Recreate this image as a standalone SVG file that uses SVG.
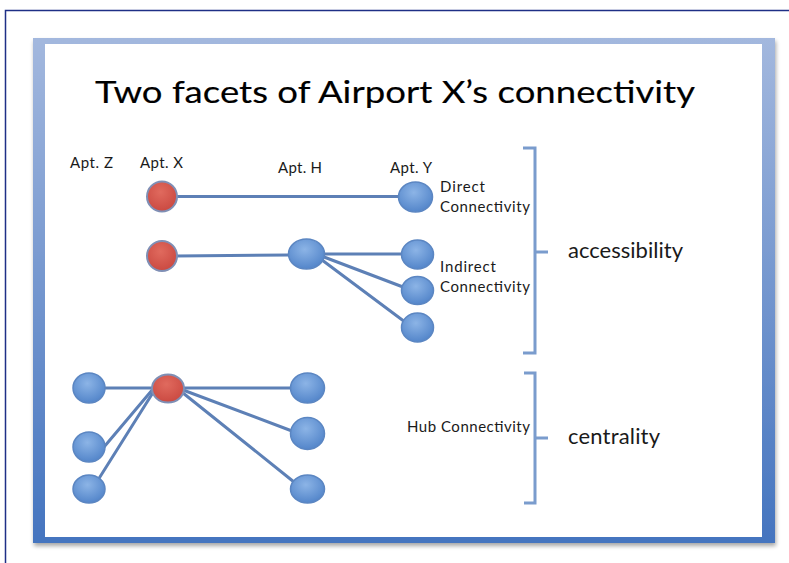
<svg xmlns="http://www.w3.org/2000/svg" width="789" height="563" viewBox="0 0 789 563">
<defs>
<linearGradient id="frameG" x1="0" y1="0" x2="0" y2="1">
<stop offset="0" stop-color="#a3b8de"/>
<stop offset="1" stop-color="#4474bf"/>
</linearGradient>
<radialGradient id="blueG" cx="0.45" cy="0.35" r="0.7">
<stop offset="0" stop-color="#8cb4e6"/>
<stop offset="1" stop-color="#4f82c8"/>
</radialGradient>
<radialGradient id="redG" cx="0.45" cy="0.35" r="0.7">
<stop offset="0" stop-color="#e06a5e"/>
<stop offset="1" stop-color="#c9473f"/>
</radialGradient>
<filter id="sh" x="-5%" y="-5%" width="110%" height="115%">
<feGaussianBlur in="SourceAlpha" stdDeviation="2"/>
<feOffset dx="1" dy="3"/>
<feComponentTransfer><feFuncA type="linear" slope="0.35"/></feComponentTransfer>
<feMerge><feMergeNode/><feMergeNode in="SourceGraphic"/></feMerge>
</filter>
</defs>
<style>
.edge{stroke:#5d80b6;stroke-width:3;fill:none;stroke-linecap:round}
.bn{fill:url(#blueG);stroke:#5b86c2;stroke-width:1.5}
.rn{fill:url(#redG);stroke:#7f8fb5;stroke-width:2}
.brk{stroke:#7a9ccd;stroke-width:3;fill:none}
.lbl{font-family:Lato,"Liberation Sans",sans-serif;font-size:15px;fill:#1a1a1a}
.big{font-family:Lato,"Liberation Sans",sans-serif;font-size:22px;fill:#1a1a1a}
</style>
<rect width="789" height="563" fill="#ffffff"/>
<path d="M5.5 563 V10.5 H789" fill="none" stroke="#1e2f86" stroke-width="1.5"/>
<g id="slide">
<rect x="33" y="38" width="742" height="505" fill="url(#frameG)" filter="url(#sh)"/>
<rect x="45" y="44" width="717" height="493" fill="#ffffff"/>
</g>
<text id="title" x="95" y="103" font-family="Lato,'Liberation Sans',sans-serif" font-size="31" fill="#000" stroke="#000" stroke-width="0.15" textLength="600" lengthAdjust="spacingAndGlyphs">Two facets of Airport X’s connectivity</text>
<g id="connectors">
<line class="edge" x1="176" y1="196.5" x2="398" y2="196.5"/>
<line class="edge" x1="176" y1="256" x2="289" y2="255"/>
<line class="edge" x1="324" y1="254" x2="402" y2="254"/>
<line class="edge" x1="324" y1="257" x2="403" y2="287"/>
<line class="edge" x1="322" y1="260" x2="405" y2="322"/>
<line class="edge" x1="105" y1="388" x2="153" y2="388"/>
<line class="edge" x1="153" y1="389" x2="104" y2="447"/>
<line class="edge" x1="154" y1="391" x2="98" y2="480"/>
<line class="edge" x1="183" y1="388" x2="291" y2="388"/>
<line class="edge" x1="183" y1="390" x2="292" y2="431"/>
<line class="edge" x1="183" y1="393" x2="294" y2="482"/>
</g>
<g id="apt-x-direct"><ellipse class="rn" cx="162" cy="196.5" rx="15" ry="15"/></g>
<g id="apt-y-direct"><ellipse class="bn" cx="415.5" cy="197" rx="17" ry="15"/></g>
<g id="apt-x-indirect"><ellipse class="rn" cx="162" cy="256" rx="15" ry="15"/></g>
<g id="apt-h"><ellipse class="bn" cx="306.5" cy="254" rx="18" ry="15"/></g>
<g id="apt-y2"><ellipse class="bn" cx="417.5" cy="254.5" rx="16" ry="14.5"/></g>
<g id="apt-y3"><ellipse class="bn" cx="417.5" cy="290.5" rx="16" ry="14"/></g>
<g id="apt-y4"><ellipse class="bn" cx="417.5" cy="327.5" rx="16" ry="14.5"/></g>
<g id="hub-z1"><ellipse class="bn" cx="89" cy="388" rx="16" ry="15"/></g>
<g id="hub-z2"><ellipse class="bn" cx="89" cy="447" rx="16" ry="15"/></g>
<g id="hub-z3"><ellipse class="bn" cx="89" cy="489" rx="16" ry="14"/></g>
<g id="hub-x"><ellipse class="rn" cx="168" cy="388.5" rx="16" ry="14"/></g>
<g id="hub-h1"><ellipse class="bn" cx="307.5" cy="388" rx="17" ry="15"/></g>
<g id="hub-h2"><ellipse class="bn" cx="307.5" cy="433.5" rx="17" ry="16"/></g>
<g id="hub-h3"><ellipse class="bn" cx="307.5" cy="489" rx="17" ry="14"/></g>
<g id="labels">
<text class="lbl" x="70" y="168" textLength="43">Apt. Z</text>
<text class="lbl" x="140" y="168" textLength="43">Apt. X</text>
<text class="lbl" x="278" y="173" textLength="44">Apt. H</text>
<text class="lbl" x="390" y="173" textLength="42">Apt. Y</text>
<text class="lbl" x="440" y="192" textLength="45">Direct</text>
<text class="lbl" x="440" y="212" textLength="90">Connectivity</text>
<text class="lbl" x="440" y="272" textLength="56">Indirect</text>
<text class="lbl" x="440" y="292" textLength="90">Connectivity</text>
<text class="lbl" x="407" y="432" textLength="123">Hub Connectivity</text>
</g>
<g id="bracket-accessibility">
<path class="brk" d="M523 148 H535 V353 H523 M535 252 H548"/>
<text class="big" x="568" y="258" textLength="115">accessibility</text>
</g>
<g id="bracket-centrality">
<path class="brk" d="M524 373 H535 V503 H524 M535 438 H548"/>
<text class="big" x="568" y="444" textLength="92">centrality</text>
</g>
</svg>
